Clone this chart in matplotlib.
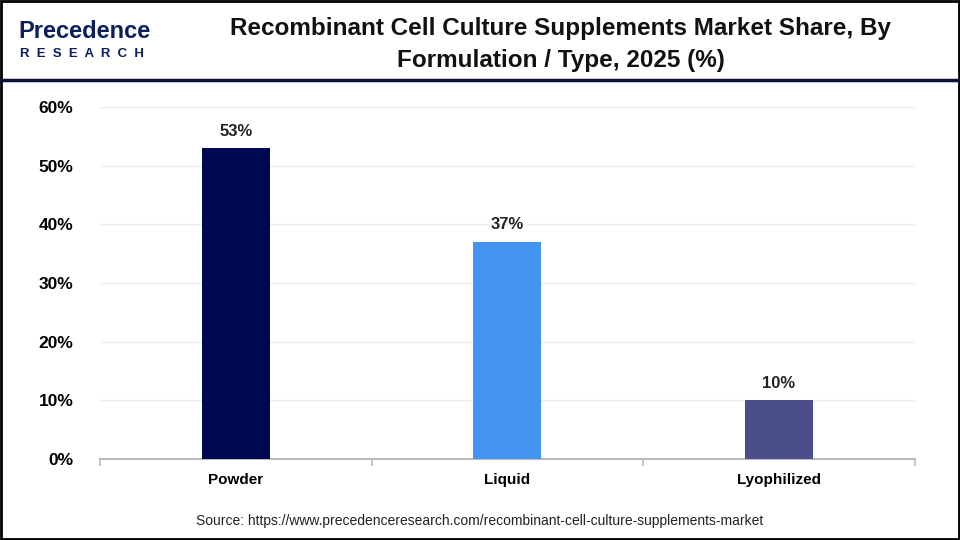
import matplotlib.pyplot as plt
from matplotlib.lines import Line2D
from matplotlib.patches import Rectangle

categories = ['Powder', 'Liquid', 'Lyophilized']
shares = [53, 37, 10]
bar_colors = ['#000852', '#4394F0', '#4A4E8A']
y_ticks = [0, 10, 20, 30, 40, 50, 60]

plt.rcParams['font.family'] = ['Liberation Sans', 'DejaVu Sans']

fig = plt.figure(figsize=(9.6, 5.4), dpi=100)
ax = fig.add_axes([0.104, 0.150, 0.849, 0.652])

x = range(len(categories))
ax.bar(x, shares, width=0.25, color=bar_colors, zorder=3)
for xi, v in zip(x, shares):
    ax.text(xi, v + 1.6, f'{v}%', ha='center', va='bottom',
            fontsize=12, fontweight='bold', color='#222222')

ax.set_xlim(-0.5, len(categories) - 0.5)
ax.set_ylim(0, 60)
ax.set_yticks(y_ticks)
ax.set_yticklabels([f'{t}%' for t in y_ticks], fontsize=12.5, fontweight='bold')
ax.set_xticks(list(x))
ax.set_xticklabels(categories, fontsize=11, fontweight='bold')
ax.tick_params(axis='y', length=0, pad=19)
ax.tick_params(axis='x', length=0, pad=10)
# boundary ticks between categories
ax.set_xticks([-0.5, 0.5, 1.5, 2.5], minor=True)
ax.tick_params(axis='x', which='minor', length=5, color='#BBBBBB', width=1.2)
ax.grid(axis='y', color='#EEEEEE', linewidth=1, zorder=0)
for s in ['top', 'right', 'left']:
    ax.spines[s].set_visible(False)
ax.spines['bottom'].set_color('#BBBBBB')
ax.spines['bottom'].set_linewidth(1.5)

# header
fig.text(0.584, 0.948, 'Recombinant Cell Culture Supplements Market Share, By',
         ha='center', va='center', fontsize=17.5, fontweight='bold', color='#111111')
fig.text(0.584, 0.888, 'Formulation / Type, 2025 (%)',
         ha='center', va='center', fontsize=17.5, fontweight='bold', color='#111111')
fig.text(0.019, 0.942, 'Precedence', ha='left', va='center', fontsize=17,
         color='#0A1F5C', fontweight='bold')
fig.text(0.021, 0.900, 'R  E  S  E  A  R  C  H', ha='left', va='center', fontsize=9.5,
         color='#0A1F5C', fontweight='bold')
fig.add_artist(Line2D([0, 1], [0.851, 0.851], color='#0A0F3C', linewidth=2.5,
                      transform=fig.transFigure))

fig.text(0.5, 0.035, 'Source: https://www.precedenceresearch.com/recombinant-cell-culture-supplements-market',
         ha='center', va='center', fontsize=10, color='#222222')

fig.add_artist(Rectangle((0.001, 0.002), 0.998, 0.996, fill=False, edgecolor='black',
                         linewidth=2, transform=fig.transFigure))

fig.savefig('out.png', dpi=100)
